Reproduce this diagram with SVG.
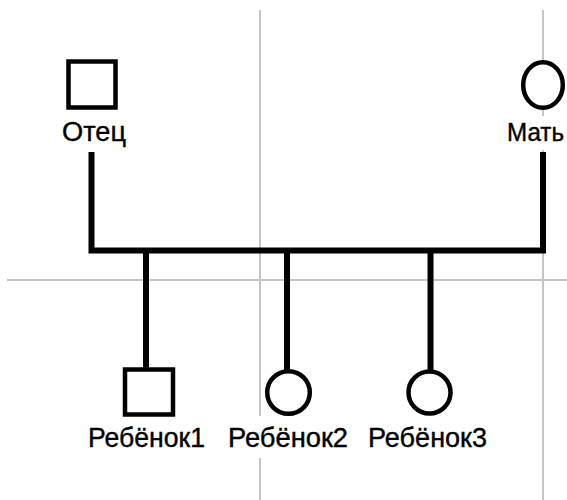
<svg xmlns="http://www.w3.org/2000/svg" width="567" height="500" viewBox="0 0 567 500">
<style>
.grid{stroke:#c4c4c4;stroke-width:2;fill:none}
.sym{fill:#fff;stroke:#000;stroke-width:4.5}
.con{stroke:#000;stroke-width:6;fill:none}
.lbl{font-family:"Liberation Sans",Arial,sans-serif;font-size:27px;fill:#000;stroke:#000;stroke-width:0.4}
.bg{fill:#fff}
</style>
<rect width="567" height="500" fill="#fff"/>
<g id="grid">
<line class="grid" x1="260" y1="10" x2="260" y2="500"/>
<line class="grid" x1="543" y1="10" x2="543" y2="500"/>
<line class="grid" x1="7" y1="280" x2="567" y2="280"/>
</g>
<g id="connectors">
<path class="con" d="M91.5,152 V250.5 H543 V152"/>
<line class="con" x1="146" y1="250.5" x2="146" y2="368"/>
<line class="con" x1="287" y1="250.5" x2="287" y2="370"/>
<line class="con" x1="430.5" y1="250.5" x2="430.5" y2="370"/>
</g>
<g id="father">
<rect class="bg" x="60" y="116" width="70" height="34"/>
<rect class="sym" x="68.5" y="61.5" width="47" height="46"/>
<text class="lbl" x="62" y="140.5" textLength="64" lengthAdjust="spacingAndGlyphs">Отец</text>
</g>
<g id="mother">
<rect class="bg" x="505" y="116" width="62" height="34"/>
<ellipse class="sym" cx="543" cy="85" rx="19.8" ry="22.8"/>
<text class="lbl" x="507" y="140.5" style="font-size:25px" textLength="57" lengthAdjust="spacingAndGlyphs">Мать</text>
</g>
<g id="child1">
<rect class="bg" x="84" y="416" width="126" height="42"/>
<rect class="sym" x="125" y="369.5" width="48" height="45"/>
<text class="lbl" x="88" y="447" textLength="117" lengthAdjust="spacingAndGlyphs">Ребёнок1</text>
</g>
<g id="child2">
<rect class="bg" x="224" y="416" width="128" height="42"/>
<circle class="sym" cx="288.5" cy="392.5" r="21.3"/>
<text class="lbl" x="228" y="447" textLength="120" lengthAdjust="spacingAndGlyphs">Ребёнок2</text>
</g>
<g id="child3">
<rect class="bg" x="364" y="416" width="128" height="42"/>
<circle class="sym" cx="429.5" cy="392.5" r="21"/>
<text class="lbl" x="368" y="447" textLength="119" lengthAdjust="spacingAndGlyphs">Ребёнок3</text>
</g>
</svg>
